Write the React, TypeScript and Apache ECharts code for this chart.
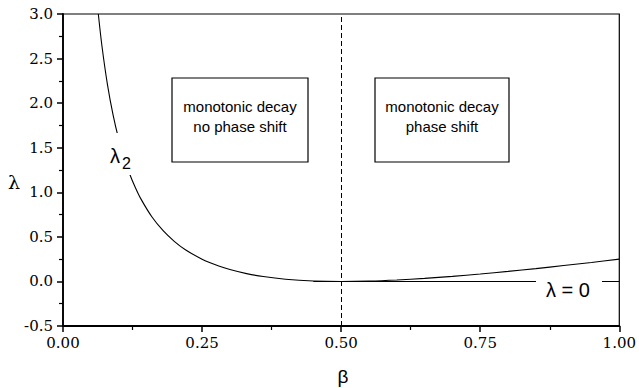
import React, { useEffect, useRef } from "react";
import * as echarts from "echarts";

const betaValues = [0.0635, 0.07, 0.08, 0.09, 0.1, 0.11, 0.12, 0.13, 0.14, 0.16, 0.18, 0.2, 0.22, 0.25, 0.28, 0.3, 0.33, 0.36, 0.4, 0.45, 0.5, 0.55, 0.6, 0.65, 0.7, 0.75, 0.8, 0.85, 0.9, 0.95, 1.0];
const lambda2Values = [3.0, 2.641, 2.205, 1.868, 1.6, 1.383, 1.203, 1.054, 0.926, 0.7225, 0.569, 0.45, 0.356, 0.25, 0.173, 0.133, 0.0876, 0.0544, 0.025, 0.0056, 0.0, 0.0045, 0.0167, 0.0346, 0.0571, 0.0833, 0.1125, 0.144, 0.178, 0.213, 0.25];
const zeroLineBeta = [0.45, 1.0];
const zeroLineLambda = [0, 0];
const xTicks = [0, 0.25, 0.5, 0.75, 1.0];
const yTicks = [-0.5, 0, 0.5, 1, 1.5, 2, 2.5, 3];
const boxTexts = [
  "monotonic decay\nno phase shift",
  "monotonic decay\nphase shift",
];

export default function App() {
  const ref = useRef<HTMLDivElement>(null);
  useEffect(() => {
    if (!ref.current) return;
    const chart = echarts.init(ref.current, null, { renderer: "svg" });
    const serif = "DejaVu Serif";
    const sans = "Liberation Sans";
    const curve = betaValues.map((b, i) => [b, lambda2Values[i]]);
    const zero = zeroLineBeta.map((b, i) => [b, zeroLineLambda[i]]);
    chart.setOption({
      animation: false,
      backgroundColor: "#fff",
      grid: {
        left: 63, right: 16, top: 14, bottom: 62,
        show: true, borderColor: "#000", borderWidth: 1.2, backgroundColor: "transparent",
      },
      xAxis: {
        type: "value", min: xTicks[0], max: xTicks[xTicks.length - 1], interval: 0.25,
        axisLine: { show: true, onZero: false, lineStyle: { color: "#000", width: 1.8 } },
        axisTick: { show: true, inside: false, length: 6, lineStyle: { color: "#000", width: 1.5 } },
        minorTick: { show: true, splitNumber: 2, length: 4, lineStyle: { color: "#000", width: 1.2 } },
        splitLine: { show: false },
        axisLabel: { color: "#000", fontFamily: serif, fontSize: 15, margin: 9, formatter: (v: number) => v.toFixed(2) },
      },
      yAxis: {
        type: "value", min: yTicks[0], max: yTicks[yTicks.length - 1], interval: 0.5,
        axisLine: { show: true, onZero: false, lineStyle: { color: "#000", width: 1.8 } },
        axisTick: { show: true, inside: false, length: 6, lineStyle: { color: "#000", width: 1.5 } },
        minorTick: { show: true, splitNumber: 2, length: 4, lineStyle: { color: "#000", width: 1.2 } },
        splitLine: { show: false },
        axisLabel: { color: "#000", fontFamily: serif, fontSize: 15, margin: 10, formatter: (v: number) => v.toFixed(1) },
      },
      series: [
        {
          type: "line", data: curve, showSymbol: false, smooth: 0.3, clip: true,
          lineStyle: { color: "#000", width: 1.1 },
          markLine: {
            silent: true, symbol: "none", label: { show: false },
            lineStyle: { color: "#000", type: [5, 3], width: 1 },
            data: [{ xAxis: 0.5 }],
          },
        },
        {
          type: "line", data: zero, showSymbol: false,
          lineStyle: { color: "#000", width: 1.1 },
        },
      ],
      graphic: [
        { type: "rect", z: 50, shape: { x: 172, y: 78, width: 136, height: 84 }, style: { fill: "#fff", stroke: "#000", lineWidth: 1.2 } },
        { type: "text", z: 51, x: 240, y: 116, style: { text: boxTexts[0], fill: "#000", fontFamily: sans, fontSize: 15, align: "center", verticalAlign: "middle", lineHeight: 20 } },
        { type: "rect", z: 50, shape: { x: 375, y: 78, width: 134, height: 84 }, style: { fill: "#fff", stroke: "#000", lineWidth: 1.2 } },
        { type: "text", z: 51, x: 442, y: 116, style: { text: boxTexts[1], fill: "#000", fontFamily: sans, fontSize: 15, align: "center", verticalAlign: "middle", lineHeight: 20 } },
        { type: "rect", z: 50, shape: { x: 107, y: 133, width: 32, height: 42 }, style: { fill: "#fff" } },
        { type: "text", z: 51, x: 110, y: 156, style: { text: "λ", fill: "#000", fontFamily: sans, fontSize: 20, verticalAlign: "middle" } },
        { type: "text", z: 51, x: 122, y: 163, style: { text: "2", fill: "#000", fontFamily: sans, fontSize: 16, verticalAlign: "middle" } },
        { type: "rect", z: 50, shape: { x: 536, y: 275, width: 66, height: 24 }, style: { fill: "#fff" } },
        { type: "text", z: 51, x: 568, y: 290, style: { text: "λ = 0", fill: "#000", fontFamily: sans, fontSize: 20, align: "center", verticalAlign: "middle" } },
        { type: "text", z: 51, x: 14, y: 182, style: { text: "λ", fill: "#000", fontFamily: serif, fontSize: 19, align: "center", verticalAlign: "middle" } },
        { type: "text", z: 51, x: 343, y: 376, style: { text: "β", fill: "#000", fontFamily: sans, fontSize: 19, align: "center", verticalAlign: "middle" } },
      ],
    });
    return () => chart.dispose();
  }, []);
  return <div ref={ref} style={{ width: 639, height: 388, position: "absolute", left: 0, top: 0 }} />;
}
